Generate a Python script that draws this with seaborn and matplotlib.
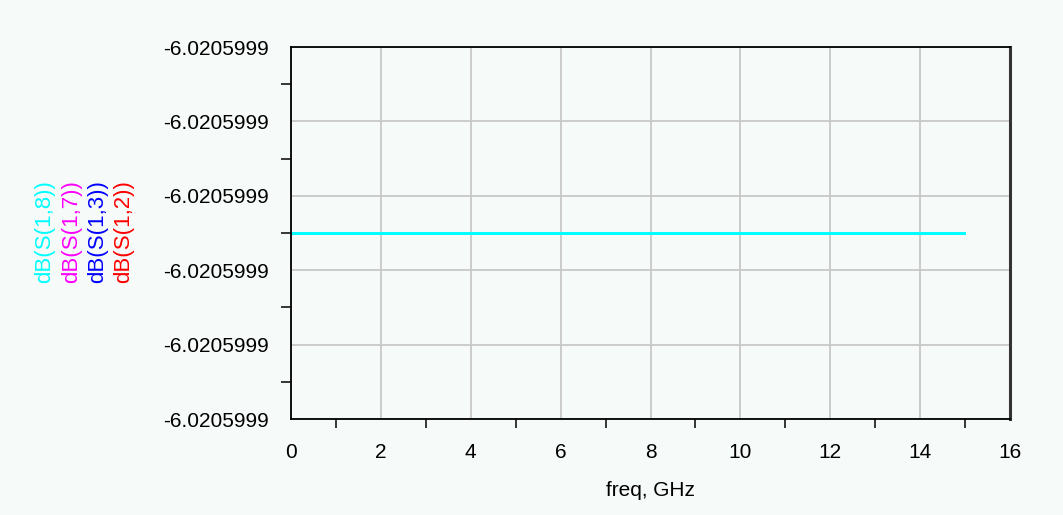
"""
S-parameter magnitude vs frequency (ADS-style rectangular plot).
All four traces are identical, so only the last one drawn (cyan) is visible.
"""
import numpy as np
import pandas as pd
import matplotlib
matplotlib.use("Agg")
import matplotlib.pyplot as plt
from matplotlib.ticker import MultipleLocator, LinearLocator, FuncFormatter
import seaborn as sns

# data
freq_ghz = [0.0, 15.0]
s12_db = [-6.0205999133, -6.0205999133]
s13_db = [-6.0205999133, -6.0205999133]
s17_db = [-6.0205999133, -6.0205999133]
s18_db = [-6.0205999133, -6.0205999133]

traces = ["dB(S(1,2))", "dB(S(1,3))", "dB(S(1,7))", "dB(S(1,8))"]
colors = ["#ff0000", "#0000ff", "#ff00ff", "#00ffff"]

y_center = -6.0205999133
y_half = 5e-9

BG = "#f6faf8"

sns.set_theme(style="white")
plt.rcParams["font.family"] = ["Liberation Sans", "DejaVu Sans"]

df = pd.concat([
    pd.DataFrame({"freq": freq_ghz, "val": vals, "trace": name})
    for name, vals in zip(traces, [s12_db, s13_db, s17_db, s18_db])
], ignore_index=True)

fig = plt.figure(figsize=(10.63, 5.15), dpi=100, facecolor=BG)
ax = fig.add_axes([0.2738, 0.1864, 0.6764, 0.7223])
ax.set_facecolor(BG)

sns.lineplot(data=df, x="freq", y="val", hue="trace", hue_order=traces,
             palette=colors, linewidth=0.75, legend=False, ax=ax)
# identical traces sit on top of each other; no antialiasing so the
# last one (cyan) shows in its own colour
for ln in ax.get_lines():
    ln.set_antialiased(False)

ax.set_xlim(0, 16)
ax.set_ylim(y_center - y_half, y_center + y_half)
ax.xaxis.set_major_locator(MultipleLocator(2))
ax.xaxis.set_minor_locator(MultipleLocator(1))
ax.yaxis.set_major_locator(LinearLocator(6))
ax.yaxis.set_minor_locator(LinearLocator(11))
ax.yaxis.set_major_formatter(FuncFormatter(lambda v, p: f"{v:.7f}"))

ax.grid(True, which="major", color="#c8c8c8", linewidth=1.3)
ax.set_axisbelow(True)
ax.tick_params(axis="both", which="major", direction="out", color="black",
               labelcolor="black", labelsize=15, width=1.3)
ax.tick_params(axis="x", which="major", length=12, pad=5)
ax.tick_params(axis="y", which="major", length=15, pad=1)
ax.tick_params(axis="x", which="minor", direction="out", length=6.5, width=1.3,
               bottom=True)
ax.tick_params(axis="y", which="minor", direction="out", length=7, width=1.3,
               left=True)
for side in ["left", "bottom", "top"]:
    ax.spines[side].set_color("black")
    ax.spines[side].set_linewidth(1.3)
ax.spines["right"].set_color("#333333")
ax.spines["right"].set_linewidth(2.2)

ax.set_xlabel("freq, GHz", fontsize=15, labelpad=14, color="black")
ax.set_ylabel("")

# stacked coloured y labels, last trace outermost
xs = [124, 98, 72, 45]
for name, col, x in zip(traces, colors, xs):
    fig.text(x / 1063, 1 - 232 / 515, name, rotation=90, color=col,
             fontsize=16, ha="center", va="center")

fig.savefig("out.png", dpi=100, facecolor=BG)
